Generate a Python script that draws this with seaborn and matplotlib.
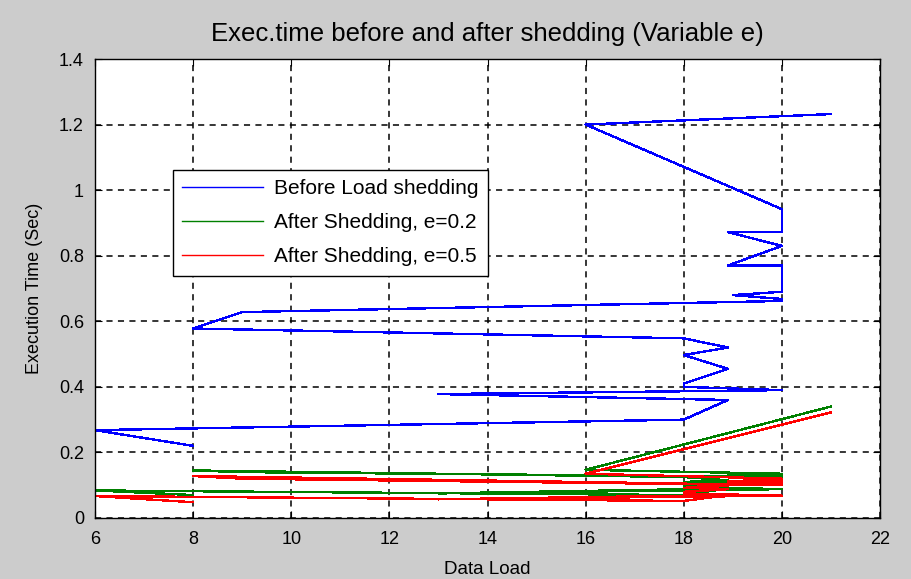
import matplotlib
matplotlib.use("Agg")
import matplotlib.pyplot as plt
import seaborn as sns
import pandas as pd

# Shared data-load sequence (plot order as in the original, unsorted)
data_load = [8, 6, 18, 18.9, 13, 20, 18, 18, 18.9, 18, 18.9, 18, 8, 9,
             20, 20, 19, 20, 20, 18.9, 20, 18.9, 20, 20, 16, 21]
before = [0.220, 0.268, 0.300, 0.360, 0.378, 0.390, 0.400, 0.410, 0.455,
          0.497, 0.520, 0.548, 0.578, 0.628, 0.662, 0.668, 0.680, 0.690,
          0.770, 0.770, 0.830, 0.872, 0.872, 0.942, 1.200, 1.232]
after_e02 = [0.070, 0.084, 0.070, 0.090, 0.075, 0.088, 0.095, 0.100, 0.105,
             0.110, 0.115, 0.125, 0.145, 0.140, 0.125, 0.128, 0.125, 0.130,
             0.130, 0.128, 0.132, 0.130, 0.133, 0.135, 0.147, 0.340]
after_e05 = [0.048, 0.067, 0.052, 0.070, 0.057, 0.068, 0.075, 0.080, 0.088,
             0.092, 0.098, 0.105, 0.128, 0.120, 0.100, 0.105, 0.100, 0.110,
             0.112, 0.108, 0.115, 0.112, 0.118, 0.120, 0.135, 0.322]
labels = ["Before Load shedding", "After Shedding, e=0.2", "After Shedding, e=0.5"]
colors = ["#0000ff", "#008000", "#ff0000"]
x_ticks = [6, 8, 10, 12, 14, 16, 18, 20, 22]
y_ticks = [0, 0.2, 0.4, 0.6, 0.8, 1.0, 1.2, 1.4]
y_tick_labels = ["0", "0.2", "0.4", "0.6", "0.8", "1", "1.2", "1.4"]

plt.rcParams["font.family"] = ["Liberation Sans", "DejaVu Sans"]

fig = plt.figure(figsize=(9.11, 5.79), dpi=100, facecolor="#cccccc")
ax = fig.add_axes([95/911, 1-518/579, 785/911, 459/579])
ax.set_facecolor("white")

for ys, lab, col in zip([before, after_e02, after_e05], labels, colors):
    df = pd.DataFrame({"x": data_load, "y": ys})
    sns.lineplot(data=df, x="x", y="y", sort=False, estimator=None, ax=ax,
                 color=col, lw=1.0, label=lab, antialiased=False)

ax.set_xlim(6, 22)
ax.set_ylim(0, 1.4)
ax.set_xticks(x_ticks)
ax.set_xticklabels([str(t) for t in x_ticks])
ax.set_yticks(y_ticks)
ax.set_yticklabels(y_tick_labels)
ax.grid(True, color="black", linestyle=(0, (4, 3.5)), lw=1.1)
ax.set_axisbelow(True)
ax.tick_params(direction="in", top=True, right=True, length=5, labelsize=13,
               colors="black")
ax.tick_params(axis="x", pad=9)
ax.tick_params(axis="y", pad=8)
for s in ax.spines.values():
    s.set_color("black")
    s.set_linewidth(1.0)

ax.set_xlabel("Data Load", fontsize=13.5, labelpad=10)
ax.set_ylabel("Execution Time (Sec)", fontsize=13, labelpad=11)
ax.set_title("Exec.time before and after shedding (Variable e)", fontsize=18.5, pad=13)

leg = ax.legend(loc="upper left", bbox_to_anchor=(0.099, 0.758), fontsize=15,
                frameon=True, fancybox=False, edgecolor="black", framealpha=1,
                handlelength=3.9, handletextpad=0.5, labelspacing=0.72,
                borderpad=0.45, borderaxespad=0)
leg.get_frame().set_linewidth(1.0)

fig.savefig("out.png", dpi=100, facecolor=fig.get_facecolor())
